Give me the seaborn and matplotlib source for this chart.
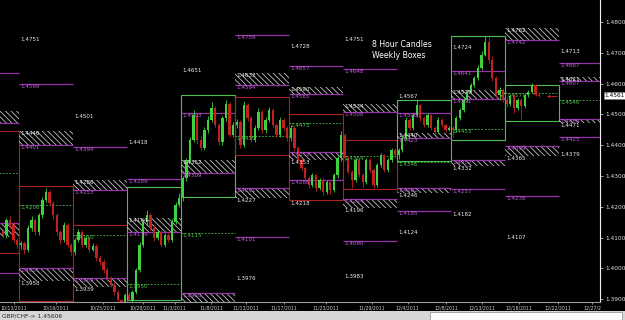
import numpy as np
import matplotlib
matplotlib.use("Agg")
import matplotlib.pyplot as plt
from matplotlib.patches import Rectangle
import matplotlib.transforms as mtrans
import seaborn as sns

# ---------------- data ----------------
# 8-hour candles, price in pips above 1.4000 (first candle index -5)
first_open = 120
close_pips = [108, 157, 141, 92, 76,
              82, 60, 131, 157, 118, 173, 222, 248, 212, 173, 118, 92, 141, 76, 53,
              92, 118, 76, 99, 60, 72, 34, 21, -5, -31, -54, -77, -103, -129, -86,
              -103, -77, -5, 76, 151, 173, 131, 99, 118, 76, 108, 92, 151, 206, 229,
              293, 352, 417, 498, 417, 391, 449, 482, 521, 466, 410, 488, 534, 433, 466,
              475, 400, 530, 488, 417, 456, 508, 449, 482, 514, 466, 433, 482, 456, 423,
              456, 391, 352, 326, 293, 271, 303, 261, 287, 248, 280, 254, 303, 358, 433,
              358, 313, 287, 352, 303, 280, 352, 319, 271, 336, 368, 319, 352, 384, 368,
              384, 423, 482, 456, 498, 530, 488, 466, 498, 456, 443, 482, 466, 449, 456,
              449, 488, 514, 547, 573, 595, 618, 650, 693, 735, 676, 618, 563, 579, 547,
              534, 560, 521, 547, 527, 563, 573, 595, 563, 561]
high_pips = [128, 165, 170, 150, 100,
             88, 90, 140, 170, 162, 180, 232, 262, 255, 218, 180, 125, 150, 148, 84,
             100, 128, 125, 108, 105, 82, 80, 45, 30, 5, -25, -45, -70, -98, -80,
             -78, -70, 0, 85, 160, 190, 180, 140, 125, 125, 115, 115, 160, 215, 245,
             300, 360, 425, 515, 505, 430, 458, 495, 540, 528, 472, 495, 548, 540, 475,
             485, 482, 545, 538, 495, 465, 520, 515, 490, 525, 520, 472, 490, 488, 462,
             465, 462, 398, 360, 330, 300, 310, 308, 292, 295, 286, 285, 310, 365, 445,
             440, 365, 320, 358, 360, 310, 358, 360, 325, 342, 375, 372, 358, 392, 390,
             392, 430, 490, 488, 505, 548, 535, 495, 505, 502, 462, 490, 488, 470, 462,
             462, 495, 520, 555, 580, 602, 625, 660, 705, 755, 752, 690, 625, 590, 585,
             555, 566, 565, 552, 553, 570, 580, 602, 598, 572]
low_pips = [98, 100, 130, 85, 65,
            62, 48, 52, 122, 110, 110, 165, 215, 205, 160, 108, 80, 85, 68, 42,
            45, 85, 70, 68, 52, 55, 25, 10, -15, -40, -62, -85, -112, -140, -135,
            -115, -110, -82, -12, 68, 140, 125, 90, 92, 68, 70, 85, 85, 145, 200,
            220, 285, 345, 410, 405, 380, 385, 440, 475, 460, 400, 402, 480, 425, 428,
            455, 392, 395, 480, 410, 410, 450, 440, 440, 475, 460, 425, 428, 450, 412,
            415, 385, 345, 320, 285, 262, 265, 252, 255, 238, 242, 240, 248, 295, 350,
            350, 305, 262, 280, 298, 265, 275, 312, 262, 265, 330, 312, 312, 345, 360,
            355, 378, 418, 450, 450, 490, 480, 458, 460, 450, 436, 438, 460, 442, 445,
            425, 442, 482, 508, 540, 565, 590, 612, 645, 688, 668, 610, 555, 548, 540,
            525, 528, 505, 515, 485, 520, 558, 568, 560, 555]

nan = np.nan
# weekly boxes (weeks W0..W10)
box_top = [1.4446, 1.4266, 1.4141, 1.4263, 1.4563, 1.4556, 1.4502, 1.4417, 1.4547, 1.4755, 1.4597]
box_bot = [1.4050, 1.3895, 1.3870, 1.3897, 1.4232, 1.4368, 1.4222, 1.4258, 1.4349, 1.4417, 1.4477]
box_up = [False, False, False, True, True, False, False, False, True, True, True]

# weekly pivot levels (weeks W0..W11)
r3 = [nan, 1.4751, 1.4501, 1.4418, 1.4651, 1.4884, 1.4728, 1.4751, 1.4567, 1.4724, nan, 1.4713]
r2 = [1.4634, 1.4599, 1.4394, 1.4289, 1.4503, 1.4759, 1.4657, 1.4648, 1.4506, 1.4641, nan, 1.4667]
zone_hi = [1.4511, 1.4446, 1.4286, 1.4164, 1.4352, 1.4633, 1.4590, 1.4534, 1.4440, 1.4579, 1.4782, 1.4621]
zone_lo = [1.4472, 1.4401, 1.4253, 1.4119, 1.4309, 1.4594, 1.4565, 1.4508, 1.4423, 1.4551, 1.4742, 1.4607]
pivot = [1.4310, 1.4206, 1.4110, 1.3950, 1.4115, 1.4430, 1.4473, 1.4364, 1.4346, 1.4453, 1.4571, 1.4546]
lzone_hi = [1.4147, 1.4001, 1.3969, nan, 1.3920, 1.4261, 1.4378, 1.4224, 1.4262, 1.4352, 1.4399, 1.4484]
lzone_lo = [1.4102, 1.3958, 1.3939, nan, 1.3880, 1.4227, 1.4353, 1.4196, 1.4246, 1.4332, 1.4365, 1.4471]
s2 = [1.3985, nan, nan, nan, nan, 1.4101, 1.4286, 1.4090, 1.4185, 1.4257, 1.4236, 1.4425]
s3 = [nan, nan, nan, nan, nan, 1.3976, 1.4218, 1.3983, 1.4124, 1.4182, 1.4107, 1.4379]

date_labels = ["10/13/2011", "10/19/2011", "10/25/2011", "10/28/2011", "11/3/2011", "11/8/2011",
               "11/13/2011", "11/17/2011", "11/23/2011", "11/29/2011", "12/4/2011", "12/8/2011",
               "12/13/2011", "12/18/2011", "12/22/2011", "12/27/2"]
date_pos = [-1.4, 10.3, 23.3, 34.4, 43.2, 53.4, 63, 73.6, 85.3, 98, 108, 118.6, 128.6, 139, 149.7, 159.2]
price_ticks = [1.39, 1.40, 1.41, 1.42, 1.43, 1.44, 1.45, 1.46, 1.47, 1.48]
last_price = 1.4561
symbol_text = "GBP/CHF-> 1.45606"
title_text = "8 Hour Candles\nWeekly Boxes"

# ---------------- style ----------------
sns.set_theme(style="dark", rc={"axes.facecolor": "black", "figure.facecolor": "black",
                                "axes.grid": False})
plt.rcParams["font.family"] = ["DejaVu Sans"]
plt.rcParams["hatch.linewidth"] = 0.55

GREEN_C = "#3fd23f"
RED_C = "#c42020"
GREEN_B = "#4cbf4c"
RED_B = "#a82222"
PURPLE_L = "#9631aa"
PURPLE_T = "#c060d8"
WHITE_T = "#e8e8e8"
HATCH_C = "#cfcfcf"
FS = 4.1
XMIN, XMAX = -5.28, 161.4
YMIN, YMAX = 1.38909, 1.48714

fig = plt.figure(figsize=(6.25, 3.2), dpi=100, facecolor="black")
ax = fig.add_axes([0, 18 / 320, 600 / 625, 302 / 320])
ax.set_facecolor("black")
ax.set_xlim(XMIN, XMAX)
ax.set_ylim(YMIN, YMAX)

n_weeks = len(r3)
week_start = [15 * (k - 1) for k in range(n_weeks)]

# weekly boxes
for k in range(len(box_top)):
    col = GREEN_B if box_up[k] else RED_B
    ax.add_patch(Rectangle((week_start[k], box_bot[k]), 15, box_top[k] - box_bot[k],
                           fill=False, edgecolor=col, lw=0.8, zorder=2))

def label(x, y, s, color):
    if x < XMIN or y < YMIN + 0.0003:
        return
    ax.text(x + 0.4, y, s, color=color, fontsize=FS, va="top", ha="left", zorder=6,
            clip_on=True)

HATCH = "\\\\\\\\\\\\"
for k in range(n_weeks):
    x0 = week_start[k]
    x1 = x0 + 15 if k < n_weeks - 1 else 170
    w = x1 - x0
    if not np.isnan(r3[k]):
        label(x0, r3[k], f"{r3[k]:.4f}", WHITE_T)
    if not np.isnan(r2[k]):
        ax.hlines(r2[k], x0, x1, color=PURPLE_L, lw=0.9, zorder=3)
        label(x0, r2[k], f"{r2[k]:.4f}", PURPLE_T)
    if not np.isnan(zone_hi[k]):
        ax.add_patch(Rectangle((x0, zone_lo[k]), w, zone_hi[k] - zone_lo[k], facecolor="none",
                               edgecolor=HATCH_C, hatch=HATCH, lw=0, zorder=2))
        ax.hlines(zone_lo[k], x0, x1, color=PURPLE_L, lw=0.9, zorder=3)
        label(x0, zone_hi[k], f"{zone_hi[k]:.4f}", WHITE_T)
        label(x0, zone_lo[k], f"{zone_lo[k]:.4f}", PURPLE_T)
    if not np.isnan(pivot[k]):
        ax.hlines(pivot[k], x0, x1, color=GREEN_B, lw=0.6, linestyles=(0, (2, 2)), zorder=3)
        label(x0, pivot[k], f"{pivot[k]:.4f}", GREEN_B)
    if not np.isnan(lzone_hi[k]):
        ax.add_patch(Rectangle((x0, lzone_lo[k]), w, lzone_hi[k] - lzone_lo[k], facecolor="none",
                               edgecolor=HATCH_C, hatch=HATCH, lw=0, zorder=2))
        ax.hlines(lzone_hi[k], x0, x1, color=PURPLE_L, lw=0.9, zorder=3)
        label(x0, lzone_hi[k], f"{lzone_hi[k]:.4f}", PURPLE_T)
        label(x0, lzone_lo[k], f"{lzone_lo[k]:.4f}", WHITE_T)
    if not np.isnan(s2[k]):
        ax.hlines(s2[k], x0, x1, color=PURPLE_L, lw=0.9, zorder=3)
        label(x0, s2[k], f"{s2[k]:.4f}", PURPLE_T)
    if not np.isnan(s3[k]):
        label(x0, s3[k], f"{s3[k]:.4f}", WHITE_T)

# candles
closes = 1.4 + np.array(close_pips) / 10000
highs = 1.4 + np.array(high_pips) / 10000
lows = 1.4 + np.array(low_pips) / 10000
opens = np.concatenate([[1.4 + first_open / 10000], closes[:-1]])
idx = np.arange(len(closes)) - 5 + 0.5
cols = np.where(closes >= opens, GREEN_C, RED_C)
ax.vlines(idx, lows, highs, colors=cols, lw=0.6, zorder=4)
body_lo = np.minimum(opens, closes)
body_h = np.maximum(np.abs(closes - opens), 0.00008)
ax.bar(idx, body_h, bottom=body_lo, width=0.62, color=cols, lw=0, zorder=5)

# current price marker
ax.plot([idx[-1] + 2.5, idx[-1] + 5], [last_price, last_price], color=RED_C, lw=0.6, zorder=5)
sns.scatterplot(x=[idx[-1] + 2.5], y=[last_price], marker="<", color=RED_C, s=6,
                linewidth=0, ax=ax, zorder=5)

# title
ax.text(98, 1.4740, title_text, color="white", fontsize=5.6, va="top", ha="left",
        linespacing=1.15, zorder=7)

# axes styling
for sp in ["top", "left"]:
    ax.spines[sp].set_visible(False)
ax.spines["right"].set_color("#f0f0f0")
ax.spines["right"].set_linewidth(0.8)
ax.spines["bottom"].set_color("#9a9a9a")
ax.spines["bottom"].set_linewidth(0.8)
ax.yaxis.tick_right()
ax.set_yticks(price_ticks)
ax.set_yticklabels([f"{v:.4f}" for v in price_ticks])
ax.tick_params(axis="y", colors="#e0e0e0", labelsize=4.2, length=2, width=0.5, pad=2,
               right=True, left=False)
ax.set_xticks(date_pos)
ax.set_xticklabels(date_labels)
ax.tick_params(axis="x", colors="#d0d0d0", labelsize=3.3, length=1.5, width=0.5, pad=1,
               bottom=True)
ax.set_xlabel("")
ax.set_ylabel("")

# last price flag on the axis
trans = mtrans.blended_transform_factory(ax.transAxes, ax.transData)
ax.text(1.008, last_price, f"{last_price:.4f}", transform=trans, fontsize=4.2, color="black",
        va="center", ha="left", clip_on=False, zorder=8,
        bbox=dict(boxstyle="square,pad=0.15", facecolor="white", edgecolor="#808080", lw=0.4))

# bottom status strip
fig.patches.append(Rectangle((0, 0), 1, 9 / 320, transform=fig.transFigure,
                             facecolor="#d6d6d6", edgecolor="none", zorder=0))
fig.patches.append(Rectangle((0, 8.6 / 320), 70 / 625, 0.6 / 320, transform=fig.transFigure,
                             facecolor="#ffffff", edgecolor="none", zorder=1))
fig.patches.append(Rectangle((430 / 625, 0.5 / 320), 192 / 625, 7.5 / 320, transform=fig.transFigure,
                             facecolor="#fbfbfb", edgecolor="#8a8a8a", lw=0.5, zorder=1))
fig.text(2 / 625, 4.2 / 320, symbol_text, fontsize=4.3, color="#222222", va="center", ha="left")

fig.savefig("out.png", dpi=100, facecolor="black")
